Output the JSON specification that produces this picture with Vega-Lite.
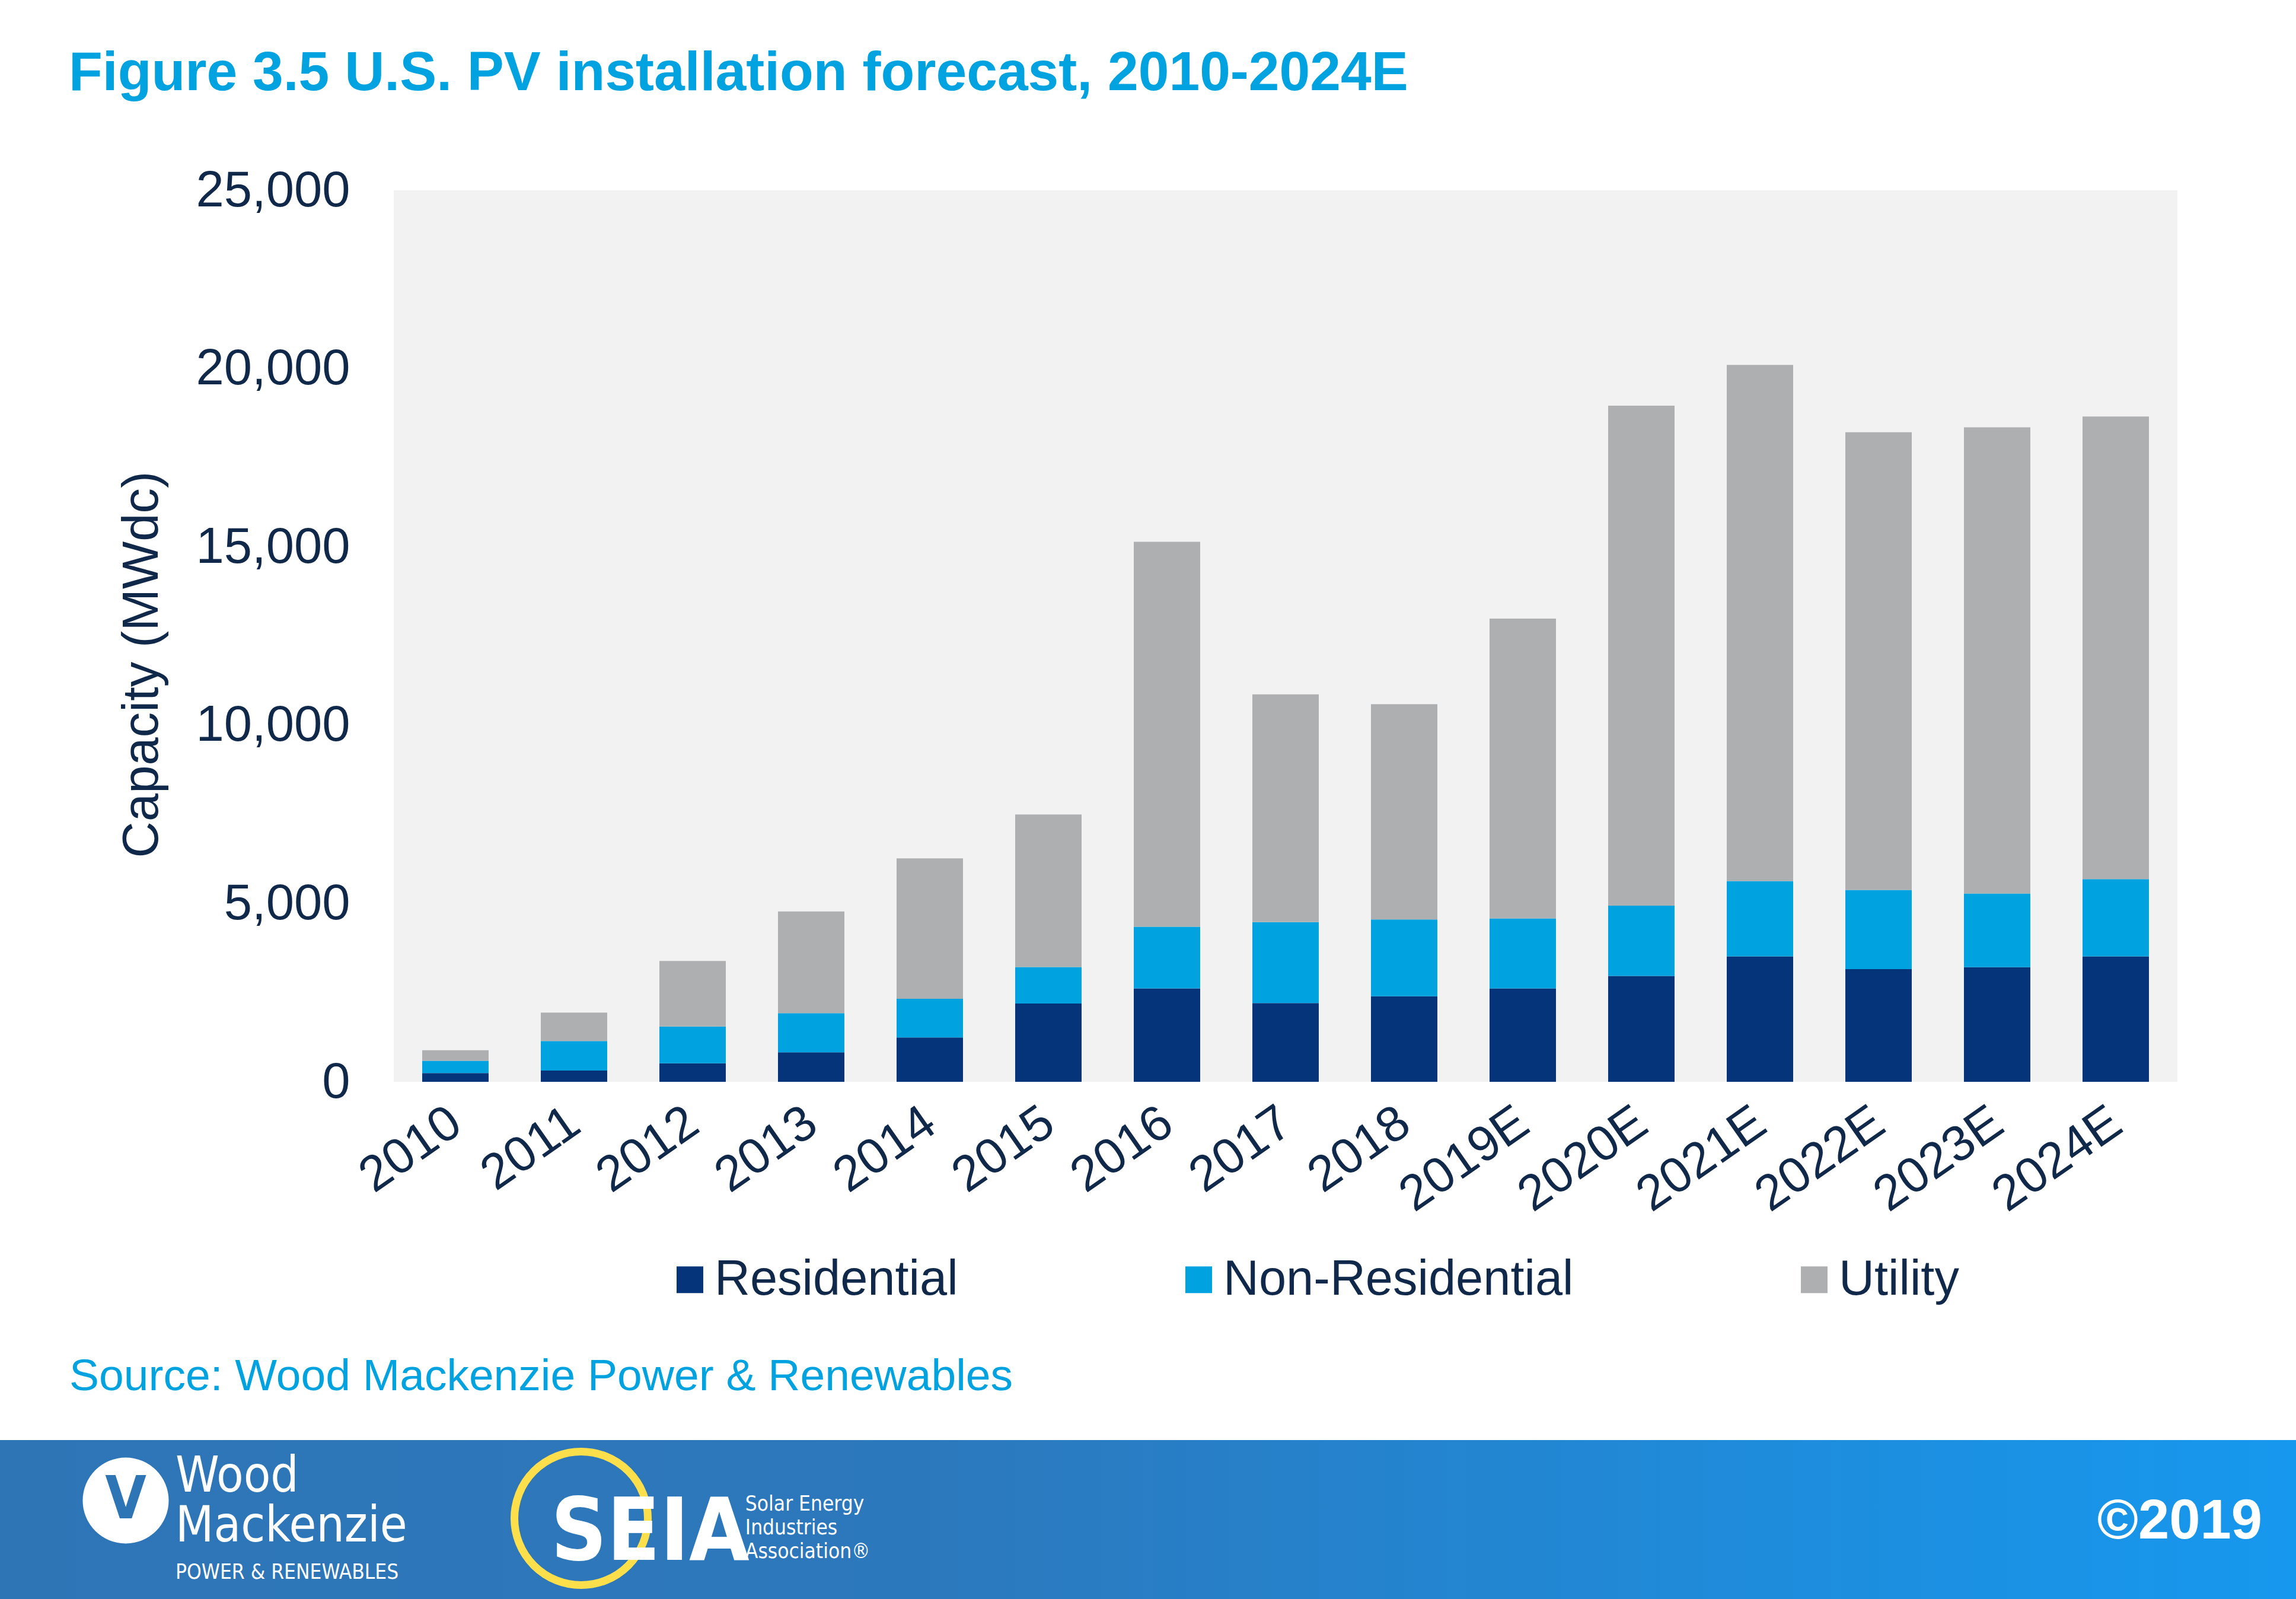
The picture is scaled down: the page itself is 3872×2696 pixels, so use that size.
{
  "$schema": "https://vega.github.io/schema/vega-lite/v6.json",
  "background": "white",
  "padding": {"left": 0, "right": 0, "top": 78, "bottom": 0},
  "title": {"text": "Figure 3.5 U.S. PV installation forecast, 2010-2024E", "anchor": "start", "frame": "bounds", "dx": 116, "baseline": "alphabetic", "offset": 34, "font": "Liberation Sans", "fontSize": 93, "fontWeight": "bold", "color": "#00A3E0"},
  "config": {"view": {"stroke": null}, "font": "Liberation Sans"},
  "spacing": 225,
  "vconcat": [
    {
      "spacing": 0,
      "hconcat": [
        {
          "width": 1,
          "height": 1503,
          "view": {"fill": "white", "stroke": null},
          "data": {"values": []},
          "mark": {"type": "point", "opacity": 0},
          "encoding": {}
        },
        {
          "width": 3008,
          "height": 1503,
          "view": {"fill": "#F2F2F2", "stroke": null},
          "data": {"values": [
            {"year": "2010", "segment": "Residential", "mw": 245}, {"year": "2010", "segment": "Non-Residential", "mw": 345}, {"year": "2010", "segment": "Utility", "mw": 297},
            {"year": "2011", "segment": "Residential", "mw": 316}, {"year": "2011", "segment": "Non-Residential", "mw": 827}, {"year": "2011", "segment": "Utility", "mw": 801},
            {"year": "2012", "segment": "Residential", "mw": 519}, {"year": "2012", "segment": "Non-Residential", "mw": 1033}, {"year": "2012", "segment": "Utility", "mw": 1835},
            {"year": "2013", "segment": "Residential", "mw": 828}, {"year": "2013", "segment": "Non-Residential", "mw": 1098}, {"year": "2013", "segment": "Utility", "mw": 2851},
            {"year": "2014", "segment": "Residential", "mw": 1243}, {"year": "2014", "segment": "Non-Residential", "mw": 1087}, {"year": "2014", "segment": "Utility", "mw": 3938},
            {"year": "2015", "segment": "Residential", "mw": 2194}, {"year": "2015", "segment": "Non-Residential", "mw": 1026}, {"year": "2015", "segment": "Utility", "mw": 4277},
            {"year": "2016", "segment": "Residential", "mw": 2621}, {"year": "2016", "segment": "Non-Residential", "mw": 1730}, {"year": "2016", "segment": "Utility", "mw": 10792},
            {"year": "2017", "segment": "Residential", "mw": 2207}, {"year": "2017", "segment": "Non-Residential", "mw": 2271}, {"year": "2017", "segment": "Utility", "mw": 6389},
            {"year": "2018", "segment": "Residential", "mw": 2399}, {"year": "2018", "segment": "Non-Residential", "mw": 2154}, {"year": "2018", "segment": "Utility", "mw": 6037},
            {"year": "2019E", "segment": "Residential", "mw": 2621}, {"year": "2019E", "segment": "Non-Residential", "mw": 1963}, {"year": "2019E", "segment": "Utility", "mw": 8405},
            {"year": "2020E", "segment": "Residential", "mw": 2967}, {"year": "2020E", "segment": "Non-Residential", "mw": 1973}, {"year": "2020E", "segment": "Utility", "mw": 14022},
            {"year": "2021E", "segment": "Residential", "mw": 3518}, {"year": "2021E", "segment": "Non-Residential", "mw": 2111}, {"year": "2021E", "segment": "Utility", "mw": 14477},
            {"year": "2022E", "segment": "Residential", "mw": 3159}, {"year": "2022E", "segment": "Non-Residential", "mw": 2222}, {"year": "2022E", "segment": "Utility", "mw": 12836},
            {"year": "2023E", "segment": "Residential", "mw": 3214}, {"year": "2023E", "segment": "Non-Residential", "mw": 2069}, {"year": "2023E", "segment": "Utility", "mw": 13072},
            {"year": "2024E", "segment": "Residential", "mw": 3518}, {"year": "2024E", "segment": "Non-Residential", "mw": 2166}, {"year": "2024E", "segment": "Utility", "mw": 12975}
          ]},
          "transform": [{"window": [{"op": "row_number", "as": "idx"}], "groupby": ["year"]}],
          "mark": {"type": "bar"},
          "encoding": {
            "x": {
              "field": "year", "type": "ordinal", "sort": null,
              "scale": {"paddingInner": 0.44, "paddingOuter": 0.24},
              "axis": {"title": null, "domain": false, "ticks": false, "tickSize": 0, "labelAngle": -35, "labelAlign": "right", "labelBaseline": "top", "labelPadding": 27, "labelOffset": -22, "labelFontSize": 84, "labelColor": "#10284A", "labelFont": "Liberation Sans", "labelOverlap": false, "labelLimit": 1000, "labelBound": false}
            },
            "y": {
              "field": "mw", "type": "quantitative", "stack": "zero",
              "scale": {"domain": [0, 25000], "nice": false},
              "axis": {"title": ["", "Capacity (MWdc)"], "values": [0, 5000, 10000, 15000, 20000, 25000], "format": ",d", "domain": false, "ticks": false, "tickSize": 0, "grid": false, "labelPadding": 74, "labelFontSize": 85, "labelFont": "Liberation Sans", "labelColor": "#10284A", "labelLimit": 1000, "labelOverlap": false, "titleFont": "Liberation Sans", "titleFontSize": 85, "titleFontWeight": "normal", "titleColor": "#10284A", "titleAngle": 270, "titleBaseline": "top", "titleAlign": "center", "titleLineHeight": 196, "titleX": -662, "titleY": 799, "titleLimit": 3000}
            },
            "order": {"field": "idx", "type": "quantitative", "sort": "ascending"},
            "color": {
              "field": "segment", "type": "nominal",
              "sort": ["Residential", "Non-Residential", "Utility"],
              "scale": {"domain": ["Residential", "Non-Residential", "Utility"], "range": ["#05347A", "#00A3E0", "#AEAFB1"]},
              "legend": {"title": null, "orient": "none", "legendX": 1122, "legendY": 1795, "direction": "horizontal", "symbolType": "square", "symbolSize": 2025, "symbolStrokeWidth": 0, "symbolOpacity": 1, "labelFontSize": 83, "labelFont": "Liberation Sans", "labelColor": "#10284A", "labelOffset": 0, "columnPadding": 364, "padding": 0, "labelLimit": 2000}
            }
          }
        }
      ]
    },
    {
      "width": 3872,
      "height": 268,
      "view": {"stroke": null, "fill": {"gradient": "linear", "x1": 0, "y1": 0, "x2": 1, "y2": 0, "stops": [{"offset": 0, "color": "#2E75B6"}, {"offset": 0.4, "color": "#2C78BC"}, {"offset": 1, "color": "#1698EE"}]}},
      "title": {"text": "Source: Wood Mackenzie Power & Renewables", "anchor": "start", "frame": "group", "dx": 117, "baseline": "alphabetic", "offset": 2, "font": "Liberation Sans", "fontSize": 75, "fontWeight": "normal", "color": "#00A3E0"},
      "resolve": {"scale": {"x": "independent", "y": "independent"}},
      "layer": [
        {
          "data": {"values": [{"t": "globe"}]},
          "mark": {"type": "point", "shape": "circle", "filled": true, "fill": "white", "opacity": 1, "size": 21025, "strokeWidth": 0},
          "encoding": {
            "x": {"field": "t", "type": "nominal", "axis": null, "scale": {"type": "point", "align": 0.05475}},
            "y": {"field": "t", "type": "nominal", "axis": null, "scale": {"type": "point", "align": 0.3806}}
          }
        },
        {
          "data": {"values": [{"t": "V"}]},
          "mark": {"type": "text", "align": "center", "baseline": "middle", "font": "DejaVu Sans Condensed, DejaVu Sans, sans-serif", "fontWeight": "bold", "fontSize": 100, "color": "#2E75B6"},
          "encoding": {
            "text": {"field": "t"},
            "x": {"field": "t", "type": "nominal", "axis": null, "scale": {"type": "point", "align": 0.05475}},
            "y": {"field": "t", "type": "nominal", "axis": null, "scale": {"type": "point", "align": 0.3806}}
          }
        },
        {
          "data": {"values": [{"t": "Wood\nMackenzie"}]},
          "mark": {"type": "text", "align": "left", "baseline": "alphabetic", "lineBreak": "\n", "lineHeight": 84, "font": "DejaVu Sans Condensed, DejaVu Sans, sans-serif", "fontSize": 83, "color": "white"},
          "encoding": {
            "text": {"field": "t"},
            "x": {"field": "t", "type": "nominal", "axis": null, "scale": {"type": "point", "align": 0.07645}},
            "y": {"field": "t", "type": "nominal", "axis": null, "scale": {"type": "point", "align": 0.3246}}
          }
        },
        {
          "data": {"values": [{"t": "POWER & RENEWABLES"}]},
          "mark": {"type": "text", "align": "left", "baseline": "alphabetic", "font": "DejaVu Sans Condensed, DejaVu Sans, sans-serif", "fontSize": 35, "color": "white"},
          "encoding": {
            "text": {"field": "t"},
            "x": {"field": "t", "type": "nominal", "axis": null, "scale": {"type": "point", "align": 0.07645}},
            "y": {"field": "t", "type": "nominal", "axis": null, "scale": {"type": "point", "align": 0.8731}}
          }
        },
        {
          "data": {"values": [{"t": "ring"}]},
          "mark": {"type": "point", "shape": "circle", "filled": false, "stroke": "#FDDF4B", "strokeWidth": 13, "opacity": 1, "size": 50625},
          "encoding": {
            "x": {"field": "t", "type": "nominal", "axis": null, "scale": {"type": "point", "align": 0.2531}},
            "y": {"field": "t", "type": "nominal", "axis": null, "scale": {"type": "point", "align": 0.4925}}
          }
        },
        {
          "data": {"values": [{"t": "SEIA"}]},
          "mark": {"type": "text", "align": "left", "baseline": "alphabetic", "font": "DejaVu Sans Condensed, DejaVu Sans, sans-serif", "fontWeight": "bold", "fontSize": 146, "color": "white"},
          "encoding": {
            "text": {"field": "t"},
            "x": {"field": "t", "type": "nominal", "axis": null, "scale": {"type": "point", "align": 0.2399}},
            "y": {"field": "t", "type": "nominal", "axis": null, "scale": {"type": "point", "align": 0.7537}}
          }
        },
        {
          "data": {"values": [{"t": "Solar Energy\nIndustries\nAssociation®"}]},
          "mark": {"type": "text", "align": "left", "baseline": "alphabetic", "lineBreak": "\n", "lineHeight": 40, "font": "DejaVu Sans Condensed, DejaVu Sans, sans-serif", "fontSize": 35, "color": "white"},
          "encoding": {
            "text": {"field": "t"},
            "x": {"field": "t", "type": "nominal", "axis": null, "scale": {"type": "point", "align": 0.3246}},
            "y": {"field": "t", "type": "nominal", "axis": null, "scale": {"type": "point", "align": 0.4440}}
          }
        },
        {
          "data": {"values": [{"t": "©2019"}]},
          "mark": {"type": "text", "align": "right", "baseline": "alphabetic", "font": "Liberation Sans", "fontWeight": "bold", "fontSize": 94, "color": "white"},
          "encoding": {
            "text": {"field": "t"},
            "x": {"field": "t", "type": "nominal", "axis": null, "scale": {"type": "point", "align": 0.9853}},
            "y": {"field": "t", "type": "nominal", "axis": null, "scale": {"type": "point", "align": 0.6194}}
          }
        }
      ]
    }
  ]
}
